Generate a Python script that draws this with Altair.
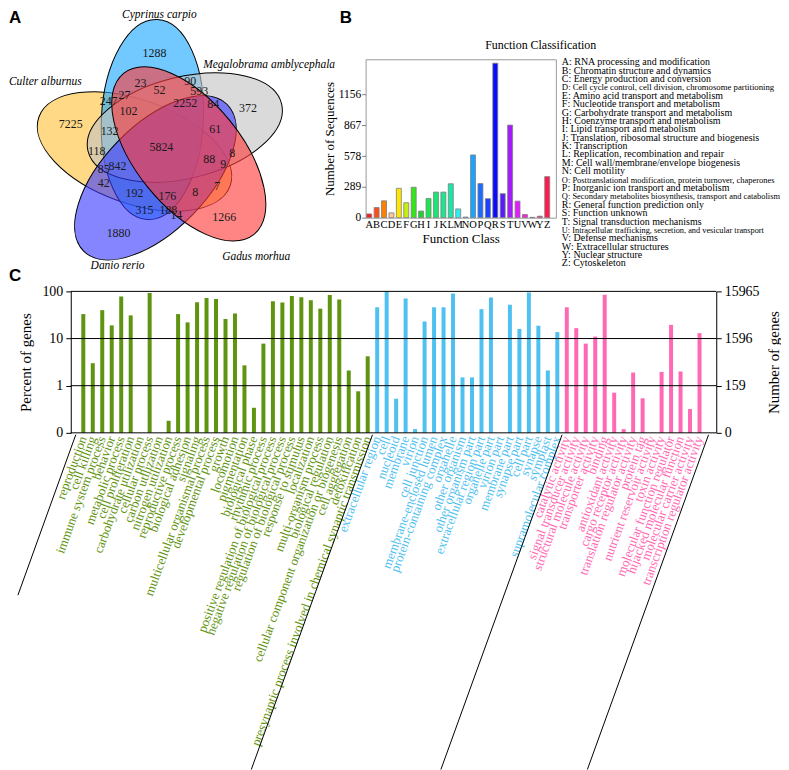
import altair as alt
import pandas as pd

SERIF = "Liberation Serif"
SANS = "Liberation Sans"

# ---------------- Panel A : five-set Venn ----------------
# drawing order matters for colour blending (Gadus morhua on top)
venn_sets = ["Culter alburnus", "Cyprinus carpio", "Megalobrama amblycephala", "Danio rerio", "Gadus morhua"]
venn_cx = [134, 152, 184.5, 155, 188.5]
venn_cy = [147.5, 115.5, 123.5, 174, 150]
venn_semi = [102, 100.5, 100, 103, 104]
venn_rot = [19.8, 92.8, 346.3, 314.2, 51]
venn_fill = ["#FFC23A", "#1AA8FF", "#C4C4C4", "#3A3AFF", "#FF3A3A"]

venn_counts = ["1288", "90", "372", "7225", "23", "52", "593", "247", "27", "2252", "84", "102",
               "132", "61", "5824", "118", "8", "88", "9", "85", "842", "42", "7", "192", "176",
               "8", "315", "188", "14", "1266", "1880"]
venn_count_x = [154, 190, 248, 70, 140, 159, 199, 108, 124, 185, 213, 128,
                109, 215, 161, 96, 232, 209, 223, 103, 117, 103, 217, 134, 167,
                195, 144, 168, 176, 224, 118]
venn_count_y = [49, 77, 104, 120, 79, 86, 87, 97, 91, 99, 100, 107,
                127, 125, 143, 147, 149, 155, 160, 165, 162, 179, 182, 189, 192,
                188, 206, 206, 211, 213, 229]

name_center = ["Cyprinus carpio", "Culter alburnus", "Danio rerio"]
name_center_x = [159, 44.5, 117]
name_center_y = [11, 78, 263]
name_left = ["Megalobrama amblycephala", "Gadus morhua"]
name_left_x = [203, 222]
name_left_y = [61, 253]

panel_letters = ["A", "B", "C"]
panel_x = [8, 340, 8]
panel_y = [14, 14, 273]

# ---------------- Panel B : COG classification ----------------
cog_letters = list("ABCDEFGHIJKLMNOPQRSTUVWYZ")
cog_counts = [35, 95, 158, 45, 275, 140, 285, 62, 180, 240, 240, 318, 82, 6,
              588, 320, 178, 1448, 225, 868, 155, 30, 3, 14, 385]
cog_colors = ["#FF1A1A", "#FF4D1A", "#FF8000", "#FFC890", "#FFE600", "#C8EE10", "#33E61A",
              "#1AD62A", "#1AE64D", "#1AE673", "#1AE68C", "#1AE6A6", "#2AF0F0", "#1AC8F5",
              "#1AA3FF", "#1A6BFF", "#1A40FF", "#0A0AFF", "#5A1AFF", "#A31AFF", "#E61AFF",
              "#FF1AE0", "#FF1AB0", "#FF1A80", "#FF1A4D"]
cog_ticks = [0, 289, 578, 867, 1156]
cog_desc = [
    "A: RNA processing and modification",
    "B: Chromatin structure and dynamics",
    "C: Energy production and conversion",
    "D: Cell cycle control, cell division, chromosome partitioning",
    "E: Amino acid transport and metabolism",
    "F: Nucleotide transport and metabolism",
    "G: Carbohydrate transport and metabolism",
    "H: Coenzyme transport and metabolism",
    "I: Lipid transport and metabolism",
    "J: Translation, ribosomal structure and biogenesis",
    "K: Transcription",
    "L: Replication, recombination and repair",
    "M: Cell wall/membrane/envelope biogenesis",
    "N: Cell motility",
    "O: Posttranslational modification, protein turnover, chaperones",
    "P: Inorganic ion transport and metabolism",
    "Q: Secondary metabolites biosynthesis, transport and catabolism",
    "R: General function prediction only",
    "S: Function unknown",
    "T: Signal transduction mechanisms",
    "U: Intracellular trafficking, secretion, and vesicular transport",
    "V: Defense mechanisms",
    "W: Extracellular structures",
    "Y: Nuclear structure",
    "Z: Cytoskeleton",
]

# ---------------- Panel C : GO classification ----------------
go_bp = ["reproduction", "cell killing", "immune system process", "behavior", "metabolic process",
         "cell proliferation", "carbohydrate utilization", "cellular process", "carbon utilization",
         "nitrogen utilization", "reproductive process", "biological adhesion", "signaling",
         "multicellular organismal process", "developmental process", "growth", "locomotion",
         "pigmentation", "biological phase", "rhythmic process",
         "positive regulation of biological process", "negative regulation of biological process",
         "regulation of biological process", "response to stimulus", "localization",
         "multi-organism process", "biological regulation",
         "cellular component organization or biogenesis", "cell aggregation", "detoxification",
         "presynaptic process involved in chemical synaptic transmission"]
go_bp_pct = [33, 3.0, 40, 19, 78, 31, 0, 92, 0, 0.18, 33, 22, 59, 72, 69, 26, 34, 2.7, 0.34, 7.8,
             62, 58, 80, 75, 65, 43, 84, 67, 2.1, 0.76, 4.2]
go_cc = ["extracellular region", "cell", "nucleoid", "membrane", "virion", "cell junction",
         "membrane-enclosed lumen", "protein-containing complex", "organelle", "other organism",
         "other organism part", "extracellular region part", "organelle part", "virion part",
         "membrane part", "synapse part", "cell part", "synapse", "symplast",
         "supramolecular complex"]
go_cc_pct = [46, 99, 0.53, 71, 0.12, 23, 46, 46, 90, 1.5, 1.5, 42, 74, 0, 52, 16, 95, 18.7, 2.1, 13.7]
go_mf = ["catalytic activity", "signal transducer activity", "structural molecule activity",
         "transporter activity", "binding", "antioxidant activity", "cargo receptor activity",
         "translation regulator activity", "protein tag", "nutrient reservoir activity",
         "toxin activity", "molecular function regulator", "hijacked molecular function",
         "molecular carrier activity", "transcription regulator activity"]
go_mf_pct = [46, 16.6, 7.8, 11, 85, 0.71, 0.12, 1.9, 0.54, 0, 1.96, 19.5, 2.0, 0.32, 13]
go_groups = ["biological process", "cellular component", "molecular function"]
go_colors = ["#5F9410", "#4FC1F0", "#FF69B4"]
pct_ticks = [0.1, 1, 10, 100]
pct_labels = ["0", "1", "10", "100"]
gene_labels = ["0", "159", "1596", "15965"]
bracket_top = [-0.797, 30.5, 50.5, 65.95]
bracket_shift = [6.1, 12.78, 12.78, 12.78]

# ================= build tables =================
ell_df = pd.DataFrame({"set": venn_sets, "cx": venn_cx, "cy": venn_cy,
                       "sz": [4 * a * a for a in venn_semi], "rot": venn_rot, "fill": venn_fill})
cnt_df = pd.DataFrame({"t": venn_counts, "x": venn_count_x, "y": venn_count_y})
nc_df = pd.DataFrame({"t": name_center, "x": name_center_x, "y": name_center_y})
nl_df = pd.DataFrame({"t": name_left, "x": name_left_x, "y": name_left_y})
pl_df = pd.DataFrame({"t": panel_letters, "x": panel_x, "y": panel_y})

cog_df = pd.DataFrame({"letter": cog_letters, "n": cog_counts, "col": cog_colors})
leg_df = pd.DataFrame({"i": list(range(len(cog_desc))), "desc": cog_desc,
                       "fs": [min(10.0, 214.0 / (0.40 * len(d))) for d in cog_desc]})

terms = go_bp + go_cc + go_mf
pcts = go_bp_pct + go_cc_pct + go_mf_pct
grps = [go_groups[0]] * len(go_bp) + [go_groups[1]] * len(go_cc) + [go_groups[2]] * len(go_mf)
go_df = pd.DataFrame({"idx": list(range(len(terms))), "term": terms, "pct": pcts, "grp": grps})
go_df["base"] = pct_ticks[0]
grid_df = pd.DataFrame({"lvl": pct_ticks})
br_df = pd.DataFrame({"bx": bracket_top, "bx2": [t - s for t, s in zip(bracket_top, bracket_shift)],
                      "short": [True, False, False, False]})

# ================= Panel A chart =================
r = 0.51
k = 0.5523
ELLIPSE = (f"M 1 0 C 1 {k*r:.4f} {k:.4f} {r} 0 {r} C {-k:.4f} {r} -1 {k*r:.4f} -1 0 "
           f"C -1 {-k*r:.4f} {-k:.4f} {-r} 0 {-r} C {k:.4f} {-r} 1 {-k*r:.4f} 1 0 Z")

xv = alt.Scale(domain=[70, 360], nice=False, zero=False)
yv = alt.Scale(domain=[55, 214], nice=False, zero=False, reverse=True)

ell = alt.Chart(ell_df).mark_point(shape=ELLIPSE, filled=True, opacity=1, fillOpacity=0.62,
                                   stroke="black", strokeWidth=1, strokeOpacity=1).encode(
    x=alt.X("cx:Q", scale=xv, axis=None),
    y=alt.Y("cy:Q", scale=yv, axis=None),
    size=alt.Size("sz:Q", scale=None),
    angle=alt.Angle("rot:Q", scale=None),
    color=alt.Color("fill:N", scale=None),
)
cnt = alt.Chart(cnt_df).mark_text(font=SERIF, fontSize=12, color="#1a1a1a").encode(
    x=alt.X("x:Q", scale=xv, axis=None), y=alt.Y("y:Q", scale=yv, axis=None), text="t:N")
nmc = alt.Chart(nc_df).mark_text(font=SERIF, fontSize=11.5, fontStyle="italic", color="black").encode(
    x=alt.X("x:Q", scale=xv, axis=None), y=alt.Y("y:Q", scale=yv, axis=None), text="t:N")
nml = alt.Chart(nl_df).mark_text(font=SERIF, fontSize=11.5, fontStyle="italic", color="black",
                                 align="left").encode(
    x=alt.X("x:Q", scale=xv, axis=None), y=alt.Y("y:Q", scale=yv, axis=None), text="t:N")
pls = alt.Chart(pl_df).mark_text(font=SANS, fontSize=17, fontWeight="bold", color="black",
                                 align="left").encode(
    x=alt.X("x:Q", scale=xv, axis=None), y=alt.Y("y:Q", scale=yv, axis=None), text="t:N")
venn = alt.layer(ell, cnt, nmc, nml, pls).properties(width=290, height=159)

# ================= Panel B chart =================
cog = alt.Chart(cog_df).mark_bar(stroke="#7F7F7F", strokeWidth=0.8).encode(
    x=alt.X("letter:N", sort=cog_letters,
            scale=alt.Scale(paddingInner=0.33, paddingOuter=0.49, align=0.15),
            axis=alt.Axis(title="Function Class", labelAngle=0, domain=False, ticks=False,
                          labelFontSize=10.5, titleFontSize=13, labelPadding=2, titlePadding=2,
                          titleFontWeight="normal", labelColor="black", titleColor="black")),
    y=alt.Y("n:Q", scale=alt.Scale(domain=[0, 1485], nice=False),
            axis=alt.Axis(values=cog_ticks, format="d", title="Number of Sequences", grid=False,
                          domain=False, tickColor="#808080", tickSize=4, labelFontSize=11.5,
                          titleFontSize=13, titleFontWeight="normal", labelPadding=1,
                          titlePadding=2, labelColor="black", titleColor="black")),
    color=alt.Color("col:N", scale=None),
).properties(
    width=191, height=159,
    title=alt.Title("Function Classification", anchor="start", frame="group", dx=120, offset=7,
                    fontSize=12, fontWeight="normal", font=SERIF, color="black"),
    view=alt.ViewBackground(stroke="#9A9A9A", strokeWidth=1),
)

leg = alt.Chart(leg_df).mark_text(align="left", baseline="middle", font=SERIF, color="black").encode(
    x=alt.value(0),
    y=alt.Y("i:Q", scale=alt.Scale(domain=[0, len(cog_desc) - 1], range=[3, 205]), axis=None),
    text="desc:N",
    size=alt.Size("fs:Q", scale=None),
).properties(width=200, height=159)

# ================= Panel C chart =================
W_GO, H_GO = 648, 142
x_go = alt.Scale(domain=[-0.797, 66.24], nice=False, zero=False)
y_go = alt.Scale(type="log", domain=[0.1, 100], nice=False)
col_go = alt.Scale(domain=go_groups, range=go_colors)


def label_expr(labels):
    arr = "[" + ",".join(str(t) for t in pct_ticks) + "]"
    lab = "[" + ",".join("'" + l + "'" for l in labels) + "]"
    return f"{lab}[indexof({arr}, datum.value)]"


go_bars = alt.Chart(go_df).transform_filter("datum.pct > 0").mark_bar(size=4).encode(
    x=alt.X("idx:Q", scale=x_go, axis=None),
    y=alt.Y("pct:Q", scale=y_go,
            axis=alt.Axis(orient="left", values=pct_ticks, labelExpr=label_expr(pct_labels),
                          title="Percent of genes", grid=False, domainColor="black",
                          tickColor="black", tickSize=5, labelFontSize=14, titleFontSize=15,
                          titleFontWeight="normal", labelPadding=3, titlePadding=8,
                          labelColor="black", titleColor="black")),
    y2="base:Q",
    color=alt.Color("grp:N", scale=col_go, legend=None),
)
go_grid = alt.Chart(grid_df).mark_rule(color="black", strokeWidth=1).encode(
    y=alt.Y("lvl:Q", scale=y_go,
            axis=alt.Axis(orient="right", values=pct_ticks, labelExpr=label_expr(gene_labels),
                          title="Number of genes", grid=False, domainColor="black",
                          tickColor="black", tickSize=5, labelFontSize=14, titleFontSize=15,
                          titleFontWeight="normal", labelPadding=3, titlePadding=22,
                          titleAngle=270, labelColor="black", titleColor="black")),
)
go_text = alt.Chart(go_df).mark_text(angle=290, align="right", baseline="middle", font=SERIF,
                                     fontSize=13).encode(
    x=alt.X("idx:Q", scale=x_go, axis=None),
    y=alt.value(H_GO + 4),
    text="term:N",
    color=alt.Color("grp:N", scale=col_go, legend=None),
)
br_short = alt.Chart(br_df).transform_filter("datum.short").mark_rule(color="black", strokeWidth=1).encode(
    x=alt.X("bx:Q", scale=x_go, axis=None), x2="bx2:Q",
    y=alt.value(H_GO + 2), y2=alt.value(H_GO + 163))
br_long = alt.Chart(br_df).transform_filter("!datum.short").mark_rule(color="black", strokeWidth=1).encode(
    x=alt.X("bx:Q", scale=x_go, axis=None), x2="bx2:Q",
    y=alt.value(H_GO + 2), y2=alt.value(H_GO + 338))

go = alt.layer(go_bars, go_grid, go_text, br_short, br_long).resolve_scale(y="independent").properties(
    width=W_GO, height=H_GO)

top = alt.hconcat(venn, cog, leg, spacing=6, bounds="flush")
# with flush bounds the nested row counts as zero height, so the gap includes the row height (159)
chart = alt.vconcat(top, go, spacing=233, bounds="flush").properties(padding=0).configure(
    font=SERIF).configure_view(strokeWidth=0).configure_axis(labelFont=SERIF, titleFont=SERIF)

chart.save("out.html", embed_options={"renderer": "svg", "actions": False})
